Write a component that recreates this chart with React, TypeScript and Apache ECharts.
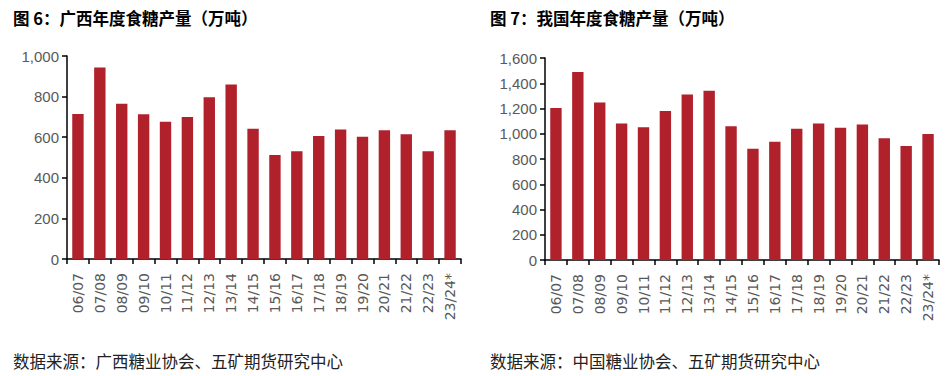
import React, { useEffect, useRef } from "react";
import * as echarts from "echarts";

const categories = ["06/07","07/08","08/09","09/10","10/11","11/12","12/13","13/14","14/15","15/16","16/17","17/18","18/19","19/20","20/21","21/22","22/23","23/24*"];
const guangxiValues = [714, 943, 765, 713, 676, 700, 797, 859, 642, 512, 531, 606, 638, 602, 634, 615, 531, 634];
const chinaValues = [1203, 1490, 1248, 1082, 1052, 1180, 1311, 1340, 1060, 881, 937, 1040, 1082, 1048, 1074, 964, 902, 998];
const leftTitle = "图 6：广西年度食糖产量（万吨）";
const rightTitle = "图 7：我国年度食糖产量（万吨）";
const leftSource = "数据来源：广西糖业协会、五矿期货研究中心";
const rightSource = "数据来源：中国糖业协会、五矿期货研究中心";

const BAR = "#B0212B";
const GRAY = "#595959";

function xAxis(gridIndex: number) {
  return {
    type: "category",
    gridIndex,
    data: categories,
    axisLine: { lineStyle: { color: "#000", width: 1.5 } },
    axisTick: { show: true, length: 5, alignWithLabel: false, lineStyle: { color: "#000", width: 1.5 } },
    axisLabel: { rotate: 90, color: GRAY, fontFamily: "DejaVu Sans", fontSize: 14, margin: 14, interval: 0 },
  };
}

function yAxis(gridIndex: number, max: number, interval: number) {
  return {
    type: "value",
    gridIndex,
    min: 0,
    max,
    interval,
    axisLine: { show: true, lineStyle: { color: "#000", width: 1.5 } },
    axisTick: { show: true, length: 5, lineStyle: { color: "#000", width: 1.5 } },
    splitLine: { show: false },
    axisLabel: {
      color: GRAY,
      fontFamily: "Liberation Sans",
      fontSize: 15,
      margin: 8,
      formatter: (v: number) => v.toLocaleString("en-US"),
    },
  };
}

export default function App() {
  const ref = useRef<HTMLDivElement>(null);
  useEffect(() => {
    const chart = echarts.init(ref.current!, null, { renderer: "svg" });
    chart.setOption({
      animation: false,
      backgroundColor: "#fff",
      grid: [
        { left: 67, right: 489, top: 56, bottom: 117 },
        { left: 545, right: 11, top: 58, bottom: 116 },
      ],
      xAxis: [xAxis(0), xAxis(1)],
      yAxis: [yAxis(0, 1000, 200), yAxis(1, 1600, 200)],
      series: [
        { type: "bar", xAxisIndex: 0, yAxisIndex: 0, data: guangxiValues, barWidth: "52%", itemStyle: { color: BAR } },
        { type: "bar", xAxisIndex: 1, yAxisIndex: 1, data: chinaValues, barWidth: "52%", itemStyle: { color: BAR } },
      ],
      graphic: [
        { type: "text", left: 13, top: 10, style: { text: leftTitle, font: "bold 16.5px 'Noto Sans CJK SC'", fill: "#000" } },
        { type: "text", left: 490, top: 10, style: { text: rightTitle, font: "bold 16.5px 'Noto Sans CJK SC'", fill: "#000" } },
        { type: "text", left: 13, top: 353, style: { text: leftSource, font: "16.5px 'Noto Sans CJK SC'", fill: "#222" } },
        { type: "text", left: 490, top: 353, style: { text: rightSource, font: "16.5px 'Noto Sans CJK SC'", fill: "#222" } },
      ],
    });
    return () => chart.dispose();
  }, []);
  return <div ref={ref} style={{ position: "absolute", left: 0, top: 0, width: 950, height: 376 }} />;
}
